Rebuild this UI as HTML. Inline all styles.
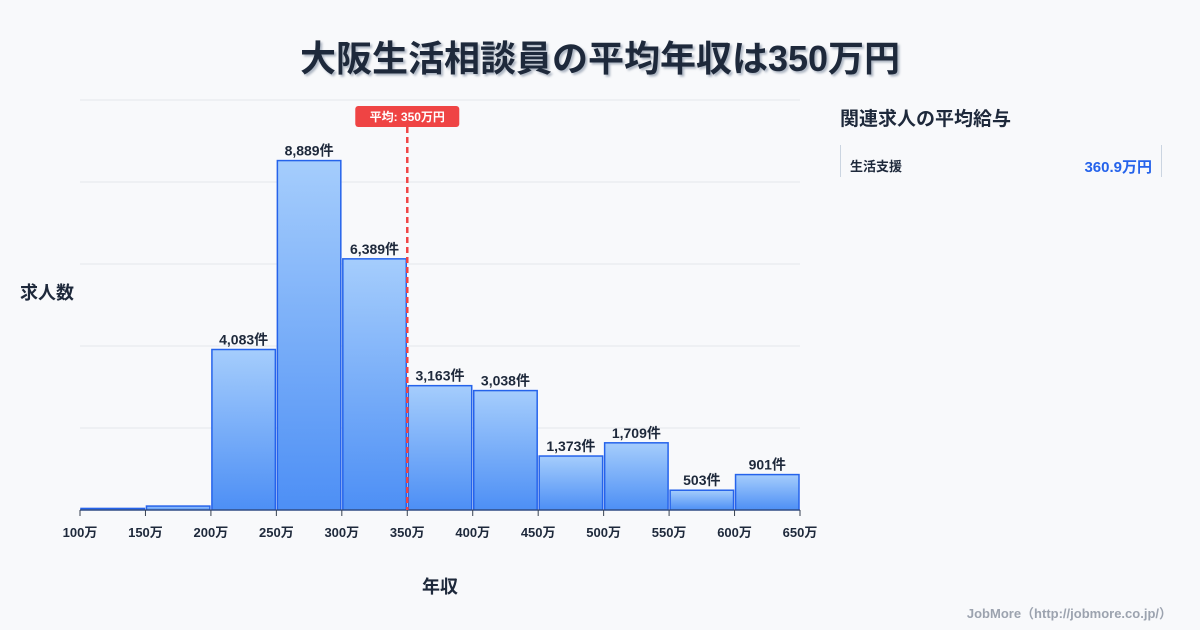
<!DOCTYPE html>
<html><head><meta charset="utf-8"><style>
body{margin:0;width:1200px;height:630px;background:#f8f9fb;font-family:"Liberation Sans","Noto Sans CJK JP",sans-serif;overflow:hidden;position:relative;color:#1f2937}
.t{position:absolute;left:0;width:1200px;text-align:center;top:30px;font-size:36px;font-weight:bold;color:#1e293b;text-shadow:2px 2px 2px rgba(100,116,139,.5)}
</style></head><body>
<div class="t">大阪生活相談員の平均年収は350万円</div>
<svg id="c" width="1200" height="630" style="position:absolute;left:0;top:0">
<defs><linearGradient id="g" x1="0" y1="0" x2="0" y2="1"><stop offset="0" stop-color="#a5cdfc"/><stop offset="1" stop-color="#4d8ff5"/></linearGradient></defs>
</svg>
<div style="position:absolute;left:840px;top:104px;font-size:19px;font-weight:bold;color:#1e293b">関連求人の平均給与</div>
<div style="position:absolute;left:840px;top:145px;width:320px;height:32px;border-left:1px solid #cbd5e1;border-right:1px solid #cbd5e1">
<span style="position:absolute;left:9px;top:11px;font-size:13px;font-weight:bold;color:#1e293b">生活支援</span>
<span style="position:absolute;right:9px;top:11px;font-size:15px;font-weight:bold;color:#2563eb">360.9万円</span></div>
<div style="position:absolute;right:28px;top:603px;font-size:13px;font-weight:bold;color:#9ca3af">JobMore（http://jobmore.co.jp/）</div>
<script>
const binLabels=["100万","150万","200万","250万","300万","350万","400万","450万","500万","550万","600万","650万"];
const counts=[40,100,4083,8889,6389,3163,3038,1373,1709,503,901];
const countLabels=["","","4,083件","8,889件","6,389件","3,163件","3,038件","1,373件","1,709件","503件","901件"];
const avgValue=350;
const yMax=10430;
const s=document.getElementById('c'),N='http://www.w3.org/2000/svg';
const x0=80,x1=800,y0=510,yTop=100,bw=(x1-x0)/counts.length;
const xs=v=>x0+(v-100)/50*bw;
const ys=v=>y0-v/yMax*(y0-yTop);
function mk(t,a,txt){const e=document.createElementNS(N,t);for(const k in a)e.setAttribute(k,a[k]);if(txt!=null)e.textContent=txt;s.appendChild(e);return e;}
for(let i=0;i<=5;i++){const y=y0-i*(y0-yTop)/5;const l=mk('line',{x1:x0,x2:x1,y1:y,y2:y,stroke:'#e5e7eb'});

}
counts.forEach((c,i)=>{const x=x0+i*bw,y=ys(c);
const r=mk('rect',{x:x+1,y:y,width:bw-2,height:y0-y,fill:'url(#g)',stroke:'#2563eb','stroke-width':1.5});


if(countLabels[i]){const t=mk('text',{x:x+bw/2,y:y-5,'text-anchor':'middle','font-size':14,'font-weight':'bold',fill:'#1e293b'},countLabels[i]);

}});
mk('line',{x1:x0,x2:x1,y1:y0,y2:y0,stroke:'#374151'});
binLabels.forEach((b,i)=>{const x=x0+i*bw;mk('line',{x1:x,x2:x,y1:y0,y2:y0+6,stroke:'#374151'});
const t=mk('text',{x:x,y:y0+27,'text-anchor':'middle','font-size':13,'font-weight':'bold',fill:'#1e293b'},b);

});
const ax=xs(avgValue);
const al=mk('line',{x1:ax,x2:ax,y1:127,y2:y0,stroke:'#ef4444','stroke-width':2.5,'stroke-dasharray':'6,4'});


const ab=mk('rect',{x:ax-52,y:106,width:104,height:21,rx:3,fill:'#ef4444'});


const at=mk('text',{x:ax,y:121,'text-anchor':'middle','font-size':12,'font-weight':'bold',fill:'#fff'},'平均: '+avgValue+'万円');


const yt=mk('text',{x:20,y:299,'font-size':18,'font-weight':'bold',fill:'#1e293b'},'求人数');


const xt=mk('text',{x:440,y:593,'text-anchor':'middle','font-size':18,'font-weight':'bold',fill:'#1e293b'},'年収');


</script>
</body></html>
